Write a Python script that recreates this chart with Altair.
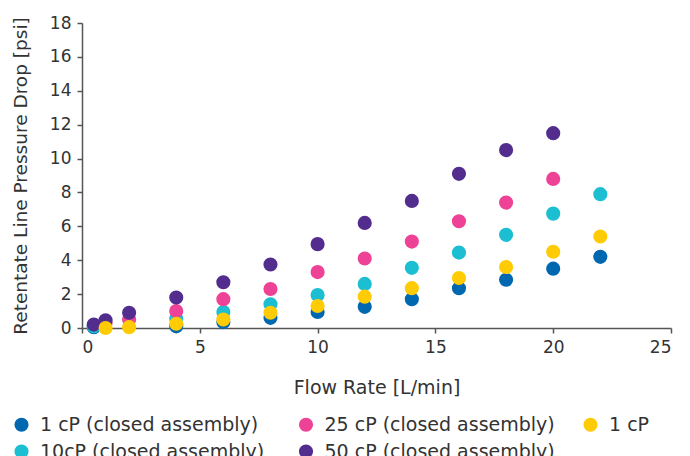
import altair as alt
import pandas as pd

series_names = [
    "1 cP (closed assembly)",
    "25 cP (closed assembly)",
    "1 cP",
    "10cP (closed assembly)",
    "50 cP (closed assembly)",
]
colors = ["#0067b1", "#ee4297", "#ffcb05", "#1bbfd1", "#522d8e"]

# series values
blue_x = [0.5, 4, 6, 8, 10, 12, 14, 16, 18, 20, 22]
blue_y = [0.05, 0.1, 0.35, 0.6, 0.95, 1.25, 1.7, 2.35, 2.85, 3.5, 4.2]

cyan_x = [0.5, 4, 6, 8, 10, 12, 14, 16, 18, 20, 22]
cyan_y = [0.1, 0.55, 0.95, 1.4, 1.95, 2.6, 3.55, 4.45, 5.5, 6.75, 7.9]

pink_x = [1, 2, 4, 6, 8, 10, 12, 14, 16, 18, 20]
pink_y = [0.3, 0.5, 1.0, 1.7, 2.3, 3.3, 4.1, 5.1, 6.3, 7.4, 8.8]

purple_x = [0.5, 1, 2, 4, 6, 8, 10, 12, 14, 16, 18, 20]
purple_y = [0.2, 0.45, 0.9, 1.8, 2.7, 3.75, 4.95, 6.2, 7.5, 9.1, 10.5, 11.5]

yellow_x = [1, 2, 4, 6, 8, 10, 12, 14, 16, 18, 20, 22]
yellow_y = [0.0, 0.05, 0.25, 0.5, 0.9, 1.3, 1.85, 2.35, 2.95, 3.6, 4.5, 5.4]

x_ticks = [0, 5, 10, 15, 20, 25]
y_ticks = [0, 2, 4, 6, 8, 10, 12, 14, 16, 18]

rows = []
draw_order = [
    ("1 cP (closed assembly)", blue_x, blue_y),
    ("10cP (closed assembly)", cyan_x, cyan_y),
    ("25 cP (closed assembly)", pink_x, pink_y),
    ("50 cP (closed assembly)", purple_x, purple_y),
    ("1 cP", yellow_x, yellow_y),
]
for i, (name, xs, ys) in enumerate(draw_order):
    for x, y in zip(xs, ys):
        rows.append({"series": name, "flow": x, "dp": y, "order": i})
df = pd.DataFrame(rows)

FONT = "DejaVu Sans"
W, H = 589, 305

chart = (
    alt.Chart(df)
    .mark_circle(size=200, opacity=1)
    .encode(
        x=alt.X(
            "flow:Q",
            title="Flow Rate [L/min]",
            scale=alt.Scale(domain=[0, 25], nice=False, zero=True),
            axis=alt.Axis(
                values=x_ticks, grid=False,
                titleY=59, titleBaseline="middle",
                labelFontSize=17, titleFontSize=19,
            ),
        ),
        y=alt.Y(
            "dp:Q",
            title="Retentate Line Pressure Drop [psi]",
            scale=alt.Scale(domain=[0, 18], nice=False),
            axis=alt.Axis(
                values=y_ticks, grid=False,
                titleX=-62, titleY=H / 2, titleBaseline="middle",
                labelFontSize=17, titleFontSize=18.5,
            ),
        ),
        color=alt.Color(
            "series:N",
            scale=alt.Scale(domain=series_names, range=colors),
            legend=alt.Legend(
                title=None,
                orient="none",
                legendX=-70,
                legendY=392,
                columns=3,
                direction="horizontal",
                gridAlign="all",
                columnPadding=25.5,
                rowPadding=7,
                symbolSize=200,
                symbolType="circle",
                symbolStrokeWidth=0,
                labelFontSize=19,
                labelFont=FONT,
                labelColor="#333333",
                labelLimit=400,
                labelOffset=9,
            ),
        ),
        order=alt.Order("order:Q"),
    )
    .properties(
        width=W,
        height=H,
        autosize=alt.AutoSizeParams(type="none"),
        padding={"left": 74, "top": 15, "right": 11, "bottom": 140},
    )
    .configure_view(stroke=None)
    .configure_axis(
        labelFont=FONT,
        titleFont=FONT,
        titleFontWeight="normal",
        labelColor="#333333",
        titleColor="#333333",
        domainColor="#555555",
        tickColor="#555555",
        domainWidth=1.5,
        tickWidth=1.5,
        tickSize=5,
        labelPadding=6,
    )
)

chart.save("out.html", embed_options={"renderer": "svg", "actions": False})
